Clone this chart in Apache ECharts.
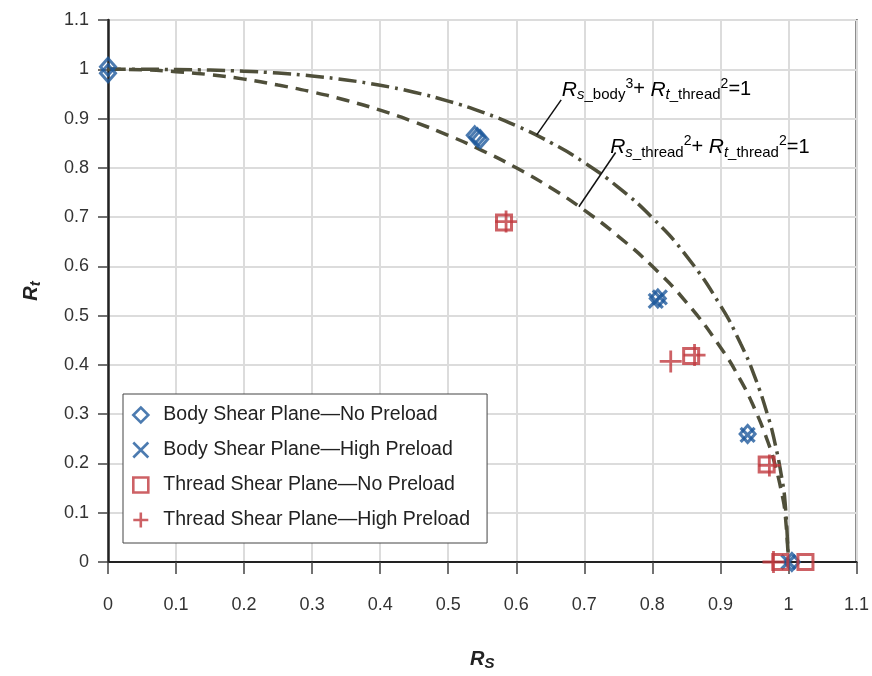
<!DOCTYPE html>
<html><head><meta charset="utf-8">
<script src="https://cdn.jsdelivr.net/npm/echarts@6/dist/echarts.min.js"></script>
<style>html,body{margin:0;padding:0;background:#fff}#c{width:872px;height:676px}</style>
</head><body><div id="c"></div>
<script>
// ---- data ----
const tickLabels = ['0','0.1','0.2','0.3','0.4','0.5','0.6','0.7','0.8','0.9','1','1.1'];
const seriesNames = ['Body Shear Plane\u2014No Preload','Body Shear Plane\u2014High Preload','Thread Shear Plane\u2014No Preload','Thread Shear Plane\u2014High Preload'];
const bodyNoPreload = [[0,1.005],[0,0.992],[0.539,0.866],[0.543,0.862],[0.547,0.858],[0.808,0.535],[0.94,0.26],[1.005,0]];
const bodyHighPreload = [[0.805,0.53],[0.811,0.537],[0.94,0.258],[1.0,0]];
const threadNoPreload = [[0.582,0.689],[0.857,0.418],[0.968,0.198],[0.988,0],[1.025,0]];
const threadHighPreload = [[0.585,0.691],[0.862,0.42],[0.827,0.407],[0.972,0.196],[0.978,0]];
// curve: Rs_thread^2 + Rt_thread^2 = 1 (dashed)
const threadCurveRs = [0,0.05,0.1,0.15,0.2,0.25,0.3,0.35,0.4,0.45,0.5,0.55,0.6,0.65,0.7,0.75,0.8,0.85,0.9,0.93,0.95,0.97,0.98,0.99,0.995,1.0];
const threadCurveRt = [1,0.999,0.995,0.989,0.980,0.968,0.954,0.937,0.917,0.893,0.866,0.835,0.800,0.760,0.714,0.661,0.600,0.527,0.436,0.368,0.312,0.243,0.199,0.141,0.100,0];
// curve: Rs_body^3 + Rt_thread^2 = 1 (dash-dot)
const bodyCurveRs = [0,0.05,0.1,0.15,0.2,0.25,0.3,0.35,0.4,0.45,0.5,0.55,0.6,0.65,0.7,0.75,0.8,0.85,0.9,0.93,0.95,0.97,0.98,0.99,0.995,1.0];
const bodyCurveRt = [1,1.0,0.9995,0.9983,0.996,0.9922,0.9864,0.9783,0.9675,0.9534,0.9354,0.913,0.8854,0.8517,0.8106,0.7603,0.6986,0.6212,0.5206,0.4423,0.3777,0.2955,0.2425,0.1723,0.1222,0];
// annotation anchors (data units)
const leader1 = [[0.666,0.938],[0.630,0.867]];
const leader2 = [[0.746,0.831],[0.692,0.721]];
const label1Pos = [0.667,0.958];
const label2Pos = [0.738,0.841];

const BLUE = '#1f5a9c', RED = '#c0393f', CURVE = '#4f4f3a';
const FONT = '"Liberation Sans", Arial, sans-serif';

const zip = (a, b) => a.map((v, i) => [v, b[i]]);

const chart = echarts.init(document.getElementById('c'), null, {renderer: 'canvas'});
const hollow = (c, w) => ({color: 'rgba(0,0,0,0)', borderColor: c, borderWidth: w});
const nameRich = {
  b: {fontFamily: FONT, fontSize: 20, fontWeight: 'bold', fontStyle: 'italic', color: '#222'},
  s: {fontFamily: FONT, fontSize: 15, fontWeight: 'bold', fontStyle: 'italic', color: '#222', padding: [9,0,0,0]}
};

const option = {
  animation: false,
  backgroundColor: '#fff',
  grid: {left: 108, top: 20, width: 750, height: 543, show: true, borderColor: '#222', borderWidth: 2, backgroundColor: 'transparent'},
  xAxis: {
    type: 'value', min: 0, max: 1.1, interval: 0.1,
    name: '{b|R}{s|S}', nameLocation: 'middle', nameGap: 85,
    nameTextStyle: {rich: nameRich},
    axisLine: {show: true, lineStyle: {color: '#222', width: 2}},
    axisTick: {show: true, length: 12, lineStyle: {color: '#444', width: 1.5}},
    axisLabel: {margin: 34, fontFamily: FONT, fontSize: 18, color: '#333', formatter: v => tickLabels[Math.round(v * 10)]},
    splitLine: {show: true, lineStyle: {color: '#dcdcdc', width: 2}}
  },
  yAxis: {
    type: 'value', min: 0, max: 1.1, interval: 0.1,
    name: '{b|R}{s|t}', nameLocation: 'middle', nameRotate: 90, nameGap: 65,
    nameTextStyle: {rich: nameRich},
    axisLine: {show: true, lineStyle: {color: '#222', width: 2.5}},
    axisTick: {show: true, length: 10, lineStyle: {color: '#444', width: 1.5}},
    axisLabel: {margin: 19, fontFamily: FONT, fontSize: 18, color: '#333', formatter: v => tickLabels[Math.round(v * 10)]},
    splitLine: {show: true, lineStyle: {color: '#dcdcdc', width: 2}}
  },
  legend: {
    data: seriesNames,
    orient: 'vertical', left: 123, top: 394,
    backgroundColor: '#fff', borderColor: '#444', borderWidth: 1,
    padding: [11, 17, 13, 9], itemGap: 15, itemWidth: 15, itemHeight: 15,
    itemStyle: {borderWidth: 2.6},
    textStyle: {fontFamily: FONT, fontSize: 19.5, color: '#222', padding: [0, 0, 0, 10]},
    selectedMode: false
  },
  series: [
    {name: 'threadCurve', type: 'line', data: zip(threadCurveRs, threadCurveRt), showSymbol: false, smooth: true, z: 1,
     lineStyle: {color: CURVE, width: 3.5, type: [13, 8]}},
    {name: 'bodyCurve', type: 'line', data: zip(bodyCurveRs, bodyCurveRt), showSymbol: false, smooth: true, z: 1,
     lineStyle: {color: CURVE, width: 3.5, type: [18, 6, 3, 6]}},
    {name: 'lead1', type: 'line', data: leader1, showSymbol: false, z: 1, lineStyle: {color: '#111', width: 1.5}},
    {name: 'lead2', type: 'line', data: leader2, showSymbol: false, z: 1, lineStyle: {color: '#111', width: 1.5}},
    {name: seriesNames[0], type: 'scatter', data: bodyNoPreload, symbol: 'diamond', symbolSize: [15, 17], itemStyle: hollow(BLUE, 3), z: 3},
    {name: seriesNames[1], type: 'scatter', data: bodyHighPreload, symbol: 'path://M0,0L10,10M10,0L0,10', symbolSize: 14, itemStyle: hollow(BLUE, 3.2), z: 3},
    {name: seriesNames[2], type: 'scatter', data: threadNoPreload, symbol: 'rect', symbolSize: 15, itemStyle: hollow(RED, 3), z: 3},
    {name: seriesNames[3], type: 'scatter', data: threadHighPreload, symbol: 'path://M5,0L5,10M0,5L10,5', symbolSize: 22, itemStyle: hollow(RED, 2.8), z: 3}
  ]
};
chart.setOption(option);

const rich = {
  r: {fontFamily: FONT, fontSize: 21, fontStyle: 'italic', color: '#222', lineHeight: 28},
  si: {fontFamily: FONT, fontSize: 15, fontStyle: 'italic', color: '#222', lineHeight: 15, padding: [10, 0, 0, 0]},
  s: {fontFamily: FONT, fontSize: 15, color: '#222', lineHeight: 15, padding: [10, 0, 0, 0]},
  p: {fontFamily: FONT, fontSize: 14, color: '#222', lineHeight: 14, padding: [0, 0, 12, 0]},
  n: {fontFamily: FONT, fontSize: 20, color: '#222', lineHeight: 28}
};
const p1 = chart.convertToPixel({gridIndex: 0}, label1Pos);
const p2 = chart.convertToPixel({gridIndex: 0}, label2Pos);
chart.setOption({
  graphic: [
    {type: 'text', x: p1[0], y: p1[1], z: 10, style: {text: '{r|R}{si|s}{s|_body}{p|3}{n|+ }{r|R}{si|t}{s|_thread}{p|2}{n|=1}', rich: rich, verticalAlign: 'middle', align: 'left'}},
    {type: 'text', x: p2[0], y: p2[1], z: 10, style: {text: '{r|R}{si|s}{s|_thread}{p|2}{n|+ }{r|R}{si|t}{s|_thread}{p|2}{n|=1}', rich: rich, verticalAlign: 'middle', align: 'left'}}
  ]
});
</script>
</body></html>
